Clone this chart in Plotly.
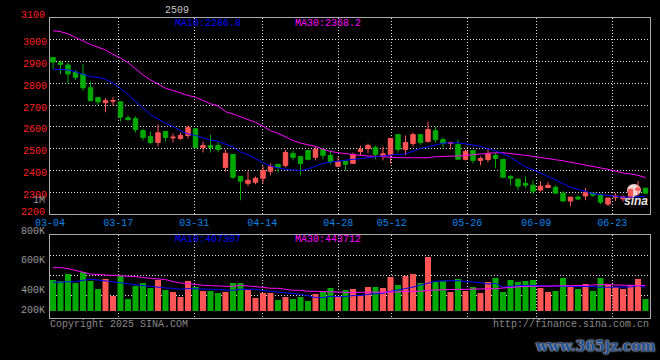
import plotly.graph_objects as go

tick_pos = [-0.4, 8.71, 18.84, 27.91, 38.04, 45.16, 55.24, 64.44, 74.57]
tick_lab = ["03-04", "03-17", "03-31", "04-14", "04-28", "05-12", "05-26", "06-09", "06-23"]
price_ticks = [2300, 2400, 2500, 2600, 2700, 2800, 2900, 3000]

open_ = [2918,2894,2883,2851,2842,2779,2735,2711,2718,2715,2642,2638,2583,2556,2529,2579,2550,2547,2561,2592,
         2506,2515,2515,2415,2474,2374,2342,2347,2365,2397,2429,2424,2479,2465,2492,2461,2497,2470,2420,2442,
         2433,2488,2501,2506,2465,2474,2565,2497,2524,2565,2533,2583,2542,2524,2520,2452,2492,2447,2451,2470,
         2452,2374,2361,2342,2333,2311,2323,2324,2297,2261,2279,2284,2297,2288,2247,2278,2271,2274,2311,2320]
close = [2897,2886,2842,2827,2779,2720,2715,2720,2720,2645,2633,2588,2552,2529,2573,2552,2553,2561,2597,2506,
         2515,2506,2497,2479,2370,2352,2356,2365,2401,2420,2415,2483,2461,2433,2452,2497,2470,2442,2442,2429,
         2474,2497,2515,2474,2477,2547,2497,2529,2565,2529,2588,2542,2524,2529,2452,2488,2447,2456,2479,2456,
         2370,2365,2329,2333,2306,2329,2333,2297,2261,2279,2270,2302,2288,2256,2275,2284,2280,2315,2320,2297]
high = [2918,2905,2894,2860,2888,2807,2735,2732,2738,2715,2652,2648,2592,2579,2611,2579,2570,2574,2606,2592,
        2533,2565,2529,2495,2474,2374,2397,2374,2420,2433,2429,2495,2492,2465,2492,2510,2505,2492,2462,2442,
        2483,2515,2524,2515,2510,2547,2565,2561,2574,2565,2624,2601,2551,2533,2542,2497,2492,2465,2501,2482,
        2452,2379,2365,2374,2356,2352,2347,2333,2306,2279,2288,2320,2297,2296,2275,2297,2288,2315,2352,2320]
low = [2865,2842,2800,2815,2765,2720,2700,2667,2697,2625,2630,2574,2538,2520,2511,2533,2529,2542,2547,2506,
       2483,2483,2483,2397,2361,2265,2329,2338,2342,2379,2392,2415,2447,2379,2447,2447,2452,2429,2420,2401,
       2432,2470,2480,2452,2447,2432,2483,2470,2510,2520,2529,2529,2506,2497,2452,2447,2433,2424,2438,2411,
       2365,2333,2311,2320,2292,2305,2323,2297,2261,2238,2265,2265,2279,2247,2238,2261,2258,2274,2288,2297]

ma10 = [2864,2864,2861,2852,2842,2830,2827,2818,2800,2777,2747,2717,2683,2656,2636,2617,2602,2583,2568,2561,
        2550,2539,2535,2523,2508,2486,2473,2455,2436,2421,2412,2406,2403,2401,2408,2421,2433,2439,2444,2447,
        2452,2455,2458,2461,2467,2471,2473,2477,2489,2501,2509,2518,2526,2527,2527,2523,2517,2511,2500,2491,
        2477,2461,2439,2417,2405,2389,2376,2359,2341,2324,2314,2303,2295,2291,2286,2282,2279,2279,2280,2283]
ma30 = [3040,3036,3026,3009,2994,2977,2965,2952,2932,2915,2894,2864,2838,2815,2797,2777,2767,2755,2744,2736,
        2720,2706,2697,2670,2659,2647,2633,2621,2603,2583,2571,2555,2538,2526,2520,2511,2498,2488,2482,2477,
        2473,2470,2467,2467,2464,2461,2459,2459,2459,2459,2459,2464,2464,2464,2467,2470,2473,2477,2480,2482,
        2482,2479,2473,2470,2465,2459,2455,2450,2445,2439,2433,2427,2420,2414,2406,2398,2389,2385,2379,2368]

vol = [353,343,413,323,433,343,263,363,193,393,163,293,323,273,353,253,233,183,343,283,
       243,243,223,233,323,323,253,173,223,223,153,183,163,183,143,213,233,273,193,253,
       263,193,283,283,273,383,303,393,413,323,583,333,343,233,363,243,283,223,333,373,
       233,353,333,343,353,273,233,243,373,283,263,313,243,373,303,283,263,303,363,163]
vol_ma10 = [330,330,330,337,350,360,353,343,330,327,317,307,297,290,280,273,270,260,267,267,
            263,260,257,250,250,260,260,260,247,240,230,220,213,210,197,177,177,190,187,187,
            197,197,210,213,220,240,257,267,283,300,320,340,343,347,347,337,333,327,313,320,
            280,290,297,297,300,297,293,293,290,290,290,290,287,280,280,283,283,283,297,280]
vol_ma30 = [477,477,467,447,433,413,407,403,397,397,390,387,377,370,367,357,337,323,317,307,
            300,297,290,290,290,300,293,290,280,270,270,260,250,250,240,240,237,230,227,227,
            227,230,230,230,230,233,233,240,240,240,250,253,260,260,260,260,260,260,260,267,
            273,280,283,290,290,290,297,293,290,297,297,300,303,310,310,303,300,300,300,297]

idx = list(range(len(close)))
UP = "#ff5555"
DOWN = "#00aa00"
bar_colors = [UP if c >= o else DOWN for o, c in zip(open_, close)]
VOL_BASE = 43

fig = go.Figure()
fig.add_trace(go.Candlestick(
    x=idx, open=open_, high=high, low=low, close=close, xaxis="x", yaxis="y",
    increasing=dict(line=dict(color=UP, width=1), fillcolor=UP),
    decreasing=dict(line=dict(color=DOWN, width=1), fillcolor=DOWN),
    whiskerwidth=0, showlegend=False, hoverinfo="skip"))
fig.add_trace(go.Scatter(x=idx, y=ma30, mode="lines", line=dict(color="#ff00ff", width=1),
                         xaxis="x", yaxis="y", showlegend=False, hoverinfo="skip"))
fig.add_trace(go.Scatter(x=idx, y=ma10, mode="lines", line=dict(color="#0000ff", width=1),
                         xaxis="x", yaxis="y", showlegend=False, hoverinfo="skip"))
fig.add_trace(go.Bar(x=idx, y=[v - VOL_BASE for v in vol], base=VOL_BASE, width=0.8,
                     marker=dict(color=bar_colors, line=dict(width=0)),
                     xaxis="x2", yaxis="y2", showlegend=False, hoverinfo="skip"))
fig.add_trace(go.Scatter(x=idx, y=vol_ma10, mode="lines", line=dict(color="#0000ff", width=1),
                         xaxis="x2", yaxis="y2", showlegend=False, hoverinfo="skip"))
fig.add_trace(go.Scatter(x=idx, y=vol_ma30, mode="lines", line=dict(color="#ff00ff", width=1),
                         xaxis="x2", yaxis="y2", showlegend=False, hoverinfo="skip"))

H = 360.0
W = 660.0
MONO = "Liberation Mono, DejaVu Sans Mono, monospace"
grid = dict(showgrid=True, gridcolor="#e0e0e0", griddash="1px,2px", gridwidth=1, zeroline=False,
            showline=True, linecolor="#aaaaaa", linewidth=1, mirror=True, ticks="", automargin=False)
xrange_ = [-0.4, 79.6]

def ann(text, px, py, color, anchor="left", size=10, family=MONO, **kw):
    return dict(text=text, x=px / W, y=1 - py / H, xref="paper", yref="paper", showarrow=False,
                xanchor=anchor, yanchor="middle", font=dict(family=family, size=size, color=color, **kw))

annotations = [
    ann("2509", 163, 10, "#c8c8c8", size=10),
    ann("MA10:2286.8", 173, 23, "#0000ff"),
    ann("MA30:2368.2", 293, 23, "#ff00ff"),
    ann("MA10:407307", 173, 239, "#0000ff"),
    ann("MA30:443712", 293, 239, "#ff00ff"),
    ann("3100", 47, 16, "#ff2020", anchor="right"),
    ann("2200", 47, 212.5, "#ff2020", anchor="right"),
    ann("1M", 47, 200.5, "#999999", anchor="right"),
    ann("800K", 47, 231, "#999999", anchor="right"),
    ann("600K", 47, 260, "#999999", anchor="right"),
    ann("400K", 47, 290.5, "#999999", anchor="right"),
    ann("200K", 47, 310.5, "#999999", anchor="right"),
    ann("Copyright 2025 SINA.COM", 48, 324, "#888888"),
    ann("http://finance.sina.com.cn", 651, 324, "#888888", anchor="right"),
    ann("<b><i>sina</i></b>", 636, 201, "#e6e0e0", anchor="center", size=12, family="Liberation Sans"),
    ann("<b>www.365jz.com</b>", 595, 346, "#1c4f96", anchor="center", size=14, family="DejaVu Serif",
        shadow="0 0 2px #b0b0b0, 0 0 2px #b0b0b0, 0 0 1px #b0b0b0"),
]

logo_blob = dict(type="circle", xref="paper", yref="paper", layer="below",
                 x0=627 / W, x1=641 / W, y0=1 - 196 / H, y1=1 - 184 / H,
                 fillcolor="#f2d8d8", line=dict(width=0))

fig.update_layout(
    width=660, height=360, autosize=False,
    paper_bgcolor="#000000", plot_bgcolor="#000000",
    margin=dict(l=0, r=0, t=0, b=0, pad=0),
    boxgap=0.15, bargap=0.2, showlegend=False, dragmode=False,
    annotations=annotations, shapes=[logo_blob],
    xaxis=dict(domain=[50 / W, 650 / W], range=xrange_, anchor="y", rangeslider=dict(visible=False),
               tickmode="array", tickvals=tick_pos, ticktext=tick_lab, ticklabelstandoff=-1,
               tickfont=dict(family=MONO, size=10, color="#0a84e8"), **grid),
    yaxis=dict(domain=[1 - 213.5 / H, 1 - 18.3 / H], range=[2204, 3097], anchor="x",
               tickmode="array", tickvals=price_ticks,
               tickfont=dict(family=MONO, size=10, color="#ff2020"), ticklabelshift=2,
               **grid),
    xaxis2=dict(domain=[50 / W, 650 / W], range=xrange_, anchor="y2", tickmode="array",
                tickvals=tick_pos, showticklabels=False, **grid),
    yaxis2=dict(domain=[1 - 318 / H, 1 - 234.5 / H], range=[-27, 808], anchor="x2",
                tickmode="array", tickvals=[200, 400, 600], showticklabels=False, **grid),
)

fig.write_html("out.html", config={"displayModeBar": False},
               post_script="document.body.style.margin='0';document.documentElement.style.background='#000';document.body.style.background='#000';")
